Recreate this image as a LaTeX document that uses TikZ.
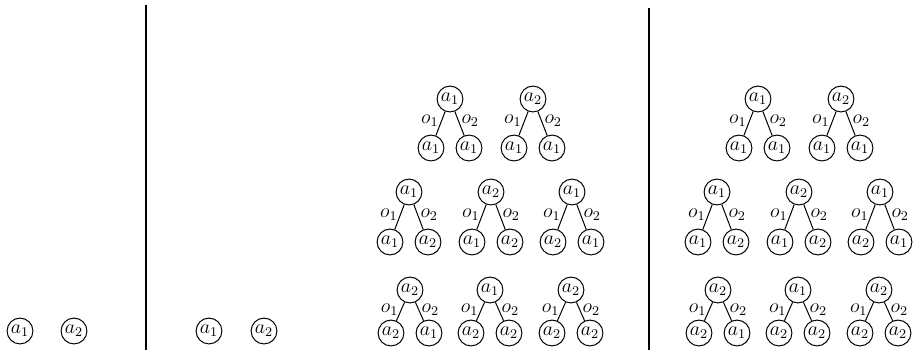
\documentclass[tikz,border=0pt]{standalone}
\usepackage{amsmath,amssymb}
\usepackage{tikz}

\begin{document}
\begin{tikzpicture}[x=0.6pt, y=-0.6pt,
  act/.style={draw, circle, semithick, minimum size=15.5pt, inner sep=0.3pt, font=\large},
  edge/.style={semithick},
  lbl/.style={inner sep=1.5pt, font=\large},
  divider/.style={line width=1.2pt}]
  \useasboundingbox (0,0) rectangle (915,354);
  % panel dividers
  \draw[divider] (146,5) -- (146,350);
  \draw[divider] (649,8) -- (649,350);
  % single actions
  \node[act] (p1a) at (20,331) {$a_1$};
  \node[act] (p1b) at (74,331) {$a_2$};
  \node[act] (p2a) at (209,331) {$a_1$};
  \node[act] (p2b) at (264,331) {$a_2$};
  % one-step trees: name/x/top/bottom/root/left/right
  \foreach \t/\x/\y/\yy/\r/\lf/\rt in {
      m1/450/99/148/1/1/1, m2/533/99/148/2/1/1,
      m3/409/192/242/1/1/2, m4/491/192/242/2/1/2, m5/572/192/242/1/2/1,
      m6/410/290/333/2/2/1, m7/490/290/333/1/2/2, m8/571/290/333/2/2/2,
      r1/758/99/148/1/1/1, r2/841/99/148/2/1/1,
      r3/717/192/242/1/1/2, r4/799/192/242/2/1/2, r5/880/192/242/1/2/1,
      r6/718/290/333/2/2/1, r7/798/290/333/1/2/2, r8/879/290/333/2/2/2} {
    \node[act] (\t) at (\x,\y) {$a_{\r}$};
    \node[act] (\t-l) at (\x-19,\yy) {$a_{\lf}$};
    \node[act] (\t-r) at (\x+19,\yy) {$a_{\rt}$};
    \draw[edge] (\t) -- node[lbl, pos=0.4, left] {$o_1$} (\t-l);
    \draw[edge] (\t) -- node[lbl, pos=0.4, right] {$o_2$} (\t-r);
  }
\end{tikzpicture}
\end{document}
